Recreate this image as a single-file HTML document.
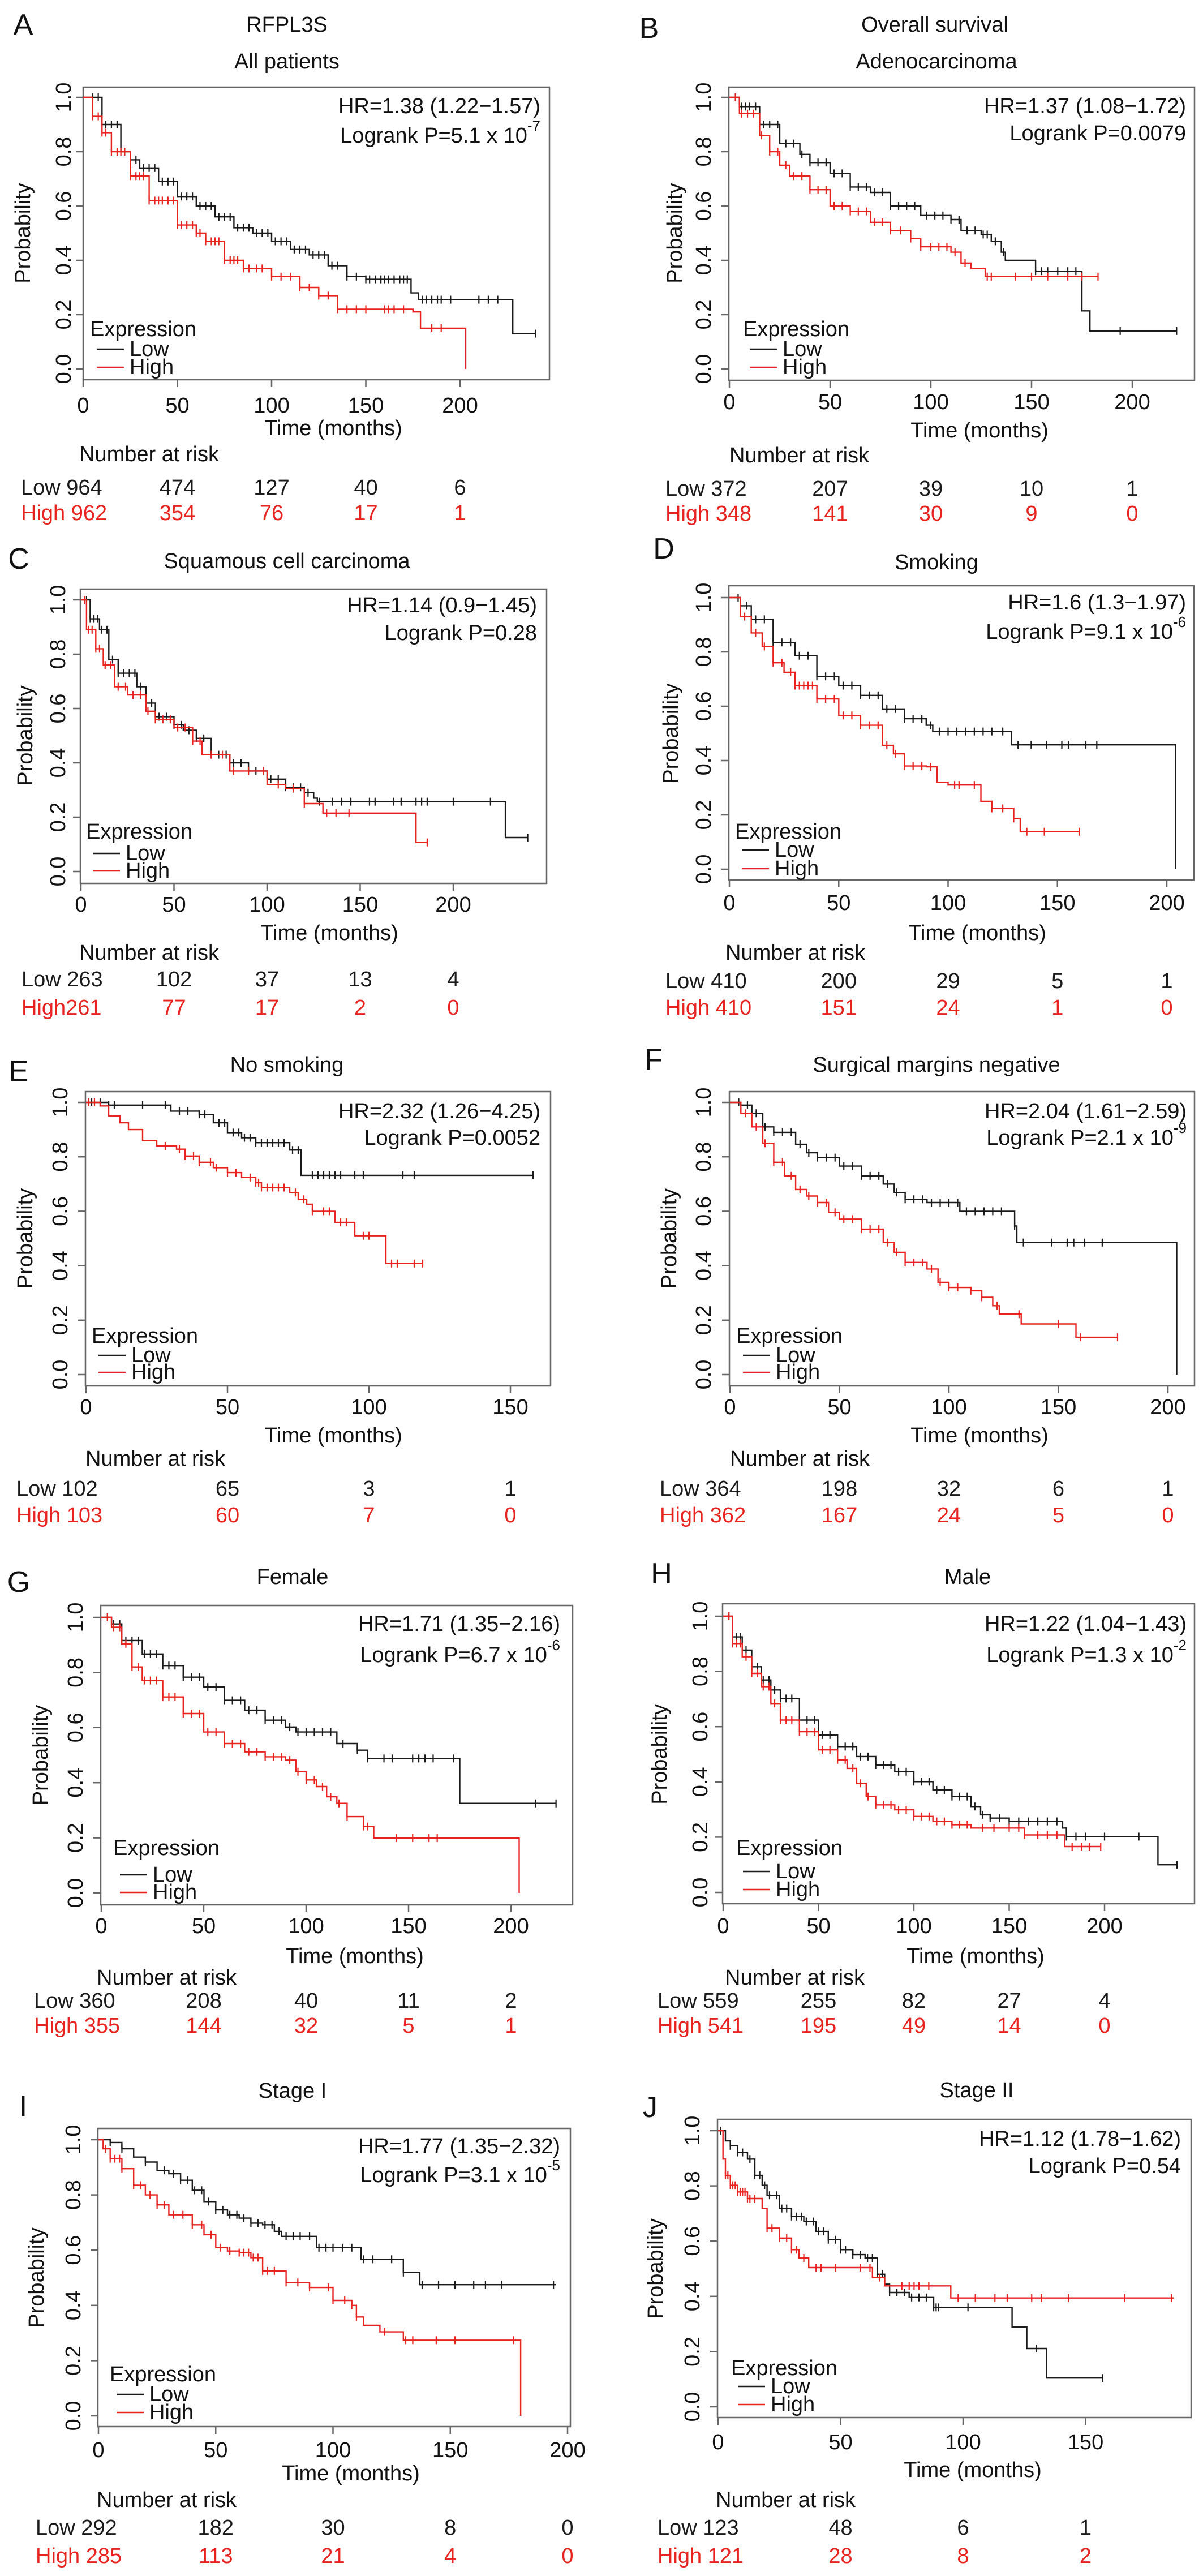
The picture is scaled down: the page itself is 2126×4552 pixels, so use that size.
<!DOCTYPE html>
<html><head><meta charset="utf-8"><title>RFPL3S survival curves</title>
<style>
html,body{margin:0;padding:0;background:#fff;}
svg{display:block;}
text{font-family:"Liberation Sans",Arial,sans-serif;}
</style></head>
<body>
<svg id="fig" xmlns="http://www.w3.org/2000/svg" width="2126" height="4552" viewBox="0 0 2126 4552">
<rect x="0" y="0" width="2126" height="4552" fill="#fff"/>
</svg>
<script>
// ---------- DATA ----------
const A_lowT=[0,10,20,25,30,40,50,60,70,80,90,100,110,120,130,140,150,174,178,228,240];
const A_lowS=[1,0.9,0.8,0.77,0.74,0.69,0.635,0.6,0.56,0.52,0.5,0.47,0.44,0.42,0.38,0.34,0.33,0.28,0.255,0.13,0.13];
const A_highT=[0,5,10,15,25,35,50,60,65,75,85,100,115,125,135,175,179,203];
const A_highS=[1,0.93,0.87,0.8,0.71,0.62,0.53,0.5,0.47,0.4,0.37,0.34,0.3,0.27,0.22,0.21,0.15,0];
const A_lowC=[5,8,12,15,18,22,25,28,32,35,38,42,45,48,52,55,58,62,65,68,72,75,78,82,85,88,92,95,98,102,105,108,112,115,118,122,125,128,132,135,140,145,150,152,155,158,160,162,165,168,170,172,180,182,185,188,190,195,210,215,220,240];
const A_highC=[5,8,10,12,15,18,20,22,25,28,30,32,35,38,40,42,45,48,50,52,55,58,60,62,65,68,70,72,75,78,80,82,85,88,92,95,100,105,110,115,120,125,130,135,140,145,150,160,162,165,170,185,190];
const A_riskLow=[964,474,127,40,6];
const A_riskHigh=[962,354,76,17,1];

const B_lowT=[0,5,15,25,35,40,50,60,70,80,95,110,115,125,130,135,137,152,175,179,222];
const B_lowS=[1,0.966,0.9,0.83,0.79,0.76,0.72,0.67,0.65,0.6,0.565,0.55,0.51,0.495,0.47,0.43,0.4,0.36,0.214,0.14,0.14];
const B_highT=[0,5,15,20,25,30,40,50,60,70,80,90,95,110,115,120,127,183];
const B_highS=[1,0.94,0.86,0.8,0.75,0.71,0.66,0.6,0.58,0.54,0.51,0.48,0.45,0.43,0.39,0.37,0.34,0.34];
const B_lowC=[3,6,8,10,13,17,20,24,28,32,36,40,44,48,52,56,60,64,68,72,76,80,84,88,92,98,102,106,110,114,118,122,126,128,132,136,152,155,158,163,168,172,194,222];
const B_highC=[3,6,9,12,16,20,24,28,32,36,40,44,48,52,56,60,64,68,72,76,80,85,90,95,100,104,108,112,117,128,130,142,150,158,168,175,183];
const B_riskLow=[372,207,39,10,1];
const B_riskHigh=[348,141,30,9,0];

const C_lowT=[0,5,10,15,20,30,35,40,50,55,62,70,80,90,100,110,120,125,127,228,240];
const C_lowS=[1,0.93,0.89,0.78,0.73,0.68,0.62,0.57,0.54,0.52,0.49,0.43,0.4,0.37,0.34,0.31,0.29,0.27,0.257,0.125,0.125];
const C_highT=[0,3,8,12,18,25,35,40,50,60,65,80,100,110,120,130,180,186];
const C_highS=[1,0.89,0.82,0.76,0.68,0.65,0.59,0.56,0.53,0.48,0.43,0.37,0.32,0.305,0.25,0.215,0.107,0.107];
const C_lowC=[3,5,7,9,11,14,17,20,23,26,29,32,35,38,42,46,50,54,58,62,66,70,74,78,82,86,90,94,98,102,106,110,114,118,122,128,135,140,145,155,158,168,172,180,183,186,200,220,240];
const C_highC=[2,4,6,8,10,13,16,20,24,28,32,36,40,44,48,52,56,60,64,70,76,82,90,98,106,114,120,132,137,144,186];
const C_riskLow=[263,102,37,13,4];
const C_riskHigh=[261,77,17,2,0];

const D_lowT=[0,5,10,20,30,40,50,60,70,80,90,93,129,204];
const D_lowS=[1,0.97,0.92,0.835,0.786,0.71,0.676,0.64,0.59,0.554,0.53,0.507,0.458,0];
const D_highT=[0,5,10,15,20,25,30,40,50,60,70,75,80,90,95,100,115,120,130,133,160];
const D_highS=[1,0.93,0.87,0.82,0.76,0.725,0.676,0.627,0.566,0.53,0.456,0.425,0.38,0.377,0.32,0.31,0.25,0.224,0.187,0.138,0.138];
const D_lowC=[4,8,12,16,20,24,28,32,36,40,44,48,52,56,60,64,68,72,76,80,84,88,92,96,100,104,108,112,116,120,125,132,138,145,152,155,163,168];
const D_highC=[7,12,16,20,24,28,30,32,34,36,38,40,44,48,52,56,60,64,68,72,76,80,84,88,92,103,105,112,120,125,130,136,144,160];
const D_riskLow=[410,200,29,5,1];
const D_riskHigh=[410,151,24,1,0];

const E_lowT=[0,8,30,40,45,50,55,60,72,76,158];
const E_lowS=[1,0.99,0.968,0.956,0.925,0.889,0.87,0.852,0.825,0.732,0.732];
const E_highT=[0,5,8,12,15,20,25,32,35,40,45,50,55,60,62,72,75,78,80,88,95,106,119];
const E_highS=[1,0.987,0.95,0.925,0.9,0.86,0.84,0.828,0.803,0.78,0.76,0.742,0.724,0.705,0.687,0.669,0.644,0.626,0.6,0.559,0.51,0.408,0.408];
const E_lowC=[2,5,8,10,20,28,33,36,40,42,47,49,52,54,56,58,60,62,64,66,68,70,73,75,80,82,84,86,88,90,95,98,112,116,158];
const E_highC=[1,3,28,33,35,38,40,44,46,50,53,58,60,61,62,64,66,68,70,74,77,80,84,86,90,92,98,100,108,110,116,119];
const E_riskLow=[102,65,3,1];
const E_riskHigh=[103,60,7,0];

const F_lowT=[0,5,10,15,20,30,35,40,50,60,70,75,80,90,105,130,131,204];
const F_lowS=[1,0.99,0.96,0.91,0.89,0.846,0.815,0.797,0.766,0.73,0.7,0.669,0.644,0.632,0.6,0.546,0.485,0];
const F_highT=[0,5,10,15,20,25,30,35,40,45,50,60,70,75,80,90,95,100,110,115,120,123,133,158,177];
const F_highS=[1,0.96,0.91,0.85,0.78,0.73,0.68,0.656,0.632,0.596,0.571,0.534,0.485,0.449,0.412,0.388,0.339,0.32,0.308,0.284,0.253,0.222,0.186,0.137,0.137];
const F_lowC=[4,8,12,16,20,24,28,32,36,40,44,48,52,56,60,64,68,72,76,80,84,88,92,96,100,104,108,112,116,120,124,130,134,147,154,157,162,170];
const F_highC=[7,12,16,20,24,28,32,36,40,44,48,52,56,60,64,68,72,76,80,84,88,92,96,100,104,110,115,122,132,150,160,177];
const F_riskLow=[364,198,32,6,1];
const F_riskHigh=[362,167,24,5,0];

const G_lowT=[0,5,10,20,30,40,50,60,70,80,90,95,115,125,130,175,222];
const G_lowS=[1,0.976,0.916,0.867,0.825,0.783,0.747,0.699,0.663,0.627,0.602,0.584,0.542,0.518,0.488,0.325,0.325];
const G_highT=[0,5,10,15,20,30,40,50,60,70,80,90,95,100,105,110,115,120,128,133,204];
const G_highS=[1,0.964,0.904,0.82,0.771,0.711,0.651,0.584,0.542,0.512,0.494,0.482,0.44,0.41,0.386,0.349,0.325,0.277,0.241,0.199,0];
const G_lowC=[3,6,9,12,15,18,21,24,27,30,33,36,40,44,48,52,56,60,64,68,72,76,80,84,88,92,96,100,104,108,112,118,125,130,138,142,152,155,158,162,172,212,222];
const G_highC=[3,6,9,12,15,18,21,24,27,30,33,36,40,44,48,52,56,60,64,68,72,76,80,84,88,92,96,100,104,108,112,116,120,128,130,144,152,160,164];
const G_riskLow=[360,208,40,11,2];
const G_riskHigh=[355,144,32,5,1];

const H_lowT=[0,5,10,15,20,25,30,40,50,60,70,80,90,100,110,120,130,135,140,150,178,180,228,238];
const H_lowS=[1,0.925,0.877,0.817,0.769,0.733,0.702,0.624,0.57,0.528,0.492,0.461,0.437,0.401,0.371,0.347,0.311,0.281,0.269,0.257,0.233,0.202,0.1,0.1];
const H_highT=[0,5,10,15,20,25,30,40,50,60,65,70,75,80,90,100,110,120,130,158,179,198];
const H_highS=[1,0.901,0.853,0.793,0.745,0.684,0.624,0.582,0.516,0.48,0.449,0.395,0.347,0.317,0.299,0.275,0.257,0.245,0.233,0.208,0.166,0.166];
const H_lowC=[3,5,7,9,12,15,18,21,24,27,30,33,36,40,44,48,52,56,60,64,68,72,76,80,84,88,92,96,100,104,108,112,116,120,124,128,132,136,140,145,150,155,160,165,170,175,180,185,190,200,218,238];
const H_highC=[3,5,7,9,12,15,18,21,24,27,30,33,36,40,44,48,52,56,60,64,68,72,76,80,84,88,92,96,100,104,108,112,116,120,124,128,136,142,150,155,158,165,170,175,183,188,192,198];
const H_riskLow=[559,255,82,27,4];
const H_riskHigh=[541,195,49,14,0];

const I_lowT=[0,5,10,15,20,25,30,35,40,45,50,55,60,65,70,75,78,93,112,130,137,195];
const I_lowS=[1,0.99,0.967,0.937,0.919,0.889,0.877,0.853,0.817,0.776,0.746,0.728,0.716,0.698,0.692,0.668,0.65,0.609,0.567,0.519,0.475,0.475];
const I_highT=[0,2,5,10,15,20,25,30,40,45,50,55,60,65,70,80,90,100,108,110,113,120,130,180];
const I_highS=[1,0.967,0.931,0.895,0.835,0.8,0.764,0.728,0.692,0.656,0.609,0.597,0.591,0.573,0.525,0.483,0.465,0.418,0.4,0.358,0.328,0.304,0.274,0];
const I_lowC=[5,10,20,28,32,35,38,41,44,47,50,53,56,59,62,65,68,71,74,77,80,83,86,90,94,97,100,104,108,113,117,125,130,138,145,152,160,165,172,194];
const I_highC=[3,5,7,9,10,15,18,22,25,28,32,36,40,44,48,52,56,60,62,64,66,68,70,72,75,80,85,90,98,100,105,108,110,122,131,134,144,152,177];
const I_riskLow=[292,182,30,8,0];
const I_riskHigh=[285,113,21,4,0];

const J_lowT=[0,3,5,8,12,15,18,20,25,30,35,40,45,50,55,60,65,68,70,78,88,120,126,134,157];
const J_lowS=[1,0.963,0.945,0.921,0.897,0.838,0.802,0.766,0.718,0.689,0.671,0.635,0.605,0.569,0.551,0.539,0.48,0.444,0.414,0.396,0.36,0.289,0.211,0.104,0.104];
const J_highT=[0,2,3,5,8,12,18,20,25,30,33,37,63,68,95,186];
const J_highS=[1,0.897,0.838,0.802,0.778,0.754,0.718,0.647,0.611,0.569,0.539,0.504,0.468,0.438,0.394,0.394];
const J_lowC=[1,5,8,10,13,15,17,19,21,24,26,28,30,32,34,36,39,41,43,45,48,50,52,55,58,61,63,65,67,70,73,76,79,82,85,88,89,90,102,130,157];
const J_highC=[3,4,5,6,7,8,9,10,11,12,13,15,20,22,25,28,30,32,35,40,42,48,58,62,66,75,78,80,82,86,98,105,113,118,128,132,143,166,185];
const J_riskLow=[123,48,6,1];
const J_riskHigh=[121,28,8,2];

const yTicks=[0,0.2,0.4,0.6,0.8,1.0];
const yTickLabels=["0.0","0.2","0.4","0.6","0.8","1.0"];
const xTicks200=[0,50,100,150,200];
const xTicks150=[0,50,100,150];

// ---------- LAYOUT ----------
const panels=[
 {id:"a",letter:"A",lp:[41,44],titles:[["RFPL3S",507,44],["All patients",507,109]],box:[147,154,971,671],x0:147,xs:3.33,y1:172,y0:652,hr:"HR=1.38 (1.22\u22121.57)",p:"5.1 x 10",sup:"-7",hrX:955,hrY:188,lrY:240,yLabX:113,probX:41,leg:[159,582,617,649],tickY:717,timeX:589,timeY:757,narX:140,narY:803,lowY:862,highY:907,lowLabX:37,hiLabel:"High ",lT:A_lowT,lS:A_lowS,hT:A_highT,hS:A_highS,lC:A_lowC,hC:A_highC,rL:A_riskLow,rH:A_riskHigh,ticks:xTicks200},
 {id:"b",letter:"B",lp:[1147,50],titles:[["Overall survival",1652,44],["Adenocarcinoma",1655,109]],box:[1288,154,2111,672],x0:1289,xs:3.56,y1:172,y0:652,hr:"HR=1.37 (1.08\u22121.72)",p:"0.0079",sup:"",hrX:2096,hrY:188,lrY:236,yLabX:1244,probX:1193,leg:[1313,582,617,649],tickY:711,timeX:1731,timeY:761,narX:1289,narY:805,lowY:864,highY:908,lowLabX:1176,hiLabel:"High ",lT:B_lowT,lS:B_lowS,hT:B_highT,hS:B_highS,lC:B_lowC,hC:B_highC,rL:B_riskLow,rH:B_riskHigh,ticks:xTicks200},
 {id:"c",letter:"C",lp:[33,988],titles:[["Squamous cell carcinoma",507,992]],box:[142,1041,966,1561],x0:143,xs:3.29,y1:1060,y0:1540,hr:"HR=1.14 (0.9\u22121.45)",p:"0.28",sup:"",hrX:949,hrY:1070,lrY:1119,yLabX:103,probX:45,leg:[152,1470,1508,1539],tickY:1599,timeX:582,timeY:1649,narX:140,narY:1684,lowY:1731,highY:1781,lowLabX:38,hiLabel:"High",lT:C_lowT,lS:C_lowS,hT:C_highT,hS:C_highS,lC:C_lowC,hC:C_highC,rL:C_riskLow,rH:C_riskHigh,ticks:xTicks200},
 {id:"d",letter:"D",lp:[1173,970],titles:[["Smoking",1655,994]],box:[1288,1035,2110,1555],x0:1289,xs:3.865,y1:1056,y0:1536,hr:"HR=1.6 (1.3\u22121.97)",p:"9.1 x 10",sup:"-6",hrX:2096,hrY:1065,lrY:1117,yLabX:1244,probX:1186,leg:[1299,1470,1502,1535],tickY:1596,timeX:1727,timeY:1649,narX:1282,narY:1684,lowY:1734,highY:1781,lowLabX:1176,hiLabel:"High ",lT:D_lowT,lS:D_lowS,hT:D_highT,hS:D_highS,lC:D_lowC,hC:D_highC,rL:D_riskLow,rH:D_riskHigh,ticks:xTicks200},
 {id:"e",letter:"E",lp:[33,1893],titles:[["No smoking",507,1882]],box:[151,1929,973,2449],x0:152,xs:5.0,y1:1948,y0:2429,hr:"HR=2.32 (1.26\u22124.25)",p:"0.0052",sup:"",hrX:955,hrY:1964,lrY:2011,yLabX:107,probX:45,leg:[162,2361,2395,2425],tickY:2487,timeX:589,timeY:2537,narX:151,narY:2578,lowY:2631,highY:2678,lowLabX:29,hiLabel:"High ",lT:E_lowT,lS:E_lowS,hT:E_highT,hS:E_highS,lC:E_lowC,hC:E_highC,rL:E_riskLow,rH:E_riskHigh,ticks:xTicks150},
 {id:"f",letter:"F",lp:[1155,1873],titles:[["Surgical margins negative",1655,1882]],box:[1289,1929,2111,2449],x0:1290,xs:3.87,y1:1948,y0:2429,hr:"HR=2.04 (1.61\u22122.59)",p:"2.1 x 10",sup:"-9",hrX:2097,hrY:1964,lrY:2011,yLabX:1244,probX:1183,leg:[1301,2361,2395,2425],tickY:2487,timeX:1731,timeY:2537,narX:1290,narY:2578,lowY:2631,highY:2678,lowLabX:1166,hiLabel:"High ",lT:F_lowT,lS:F_lowS,hT:F_highT,hS:F_highS,lC:F_lowC,hC:F_highC,rL:F_riskLow,rH:F_riskHigh,ticks:xTicks200},
 {id:"g",letter:"G",lp:[33,2796],titles:[["Female",517,2787]],box:[178,2837,1012,3366],x0:179,xs:3.62,y1:2858,y0:3345,hr:"HR=1.71 (1.35\u22122.16)",p:"6.7 x 10",sup:"-6",hrX:990,hrY:2870,lrY:2925,yLabX:134,probX:72,leg:[200,3266,3313,3344],tickY:3404,timeX:627,timeY:3457,narX:171,narY:3495,lowY:3536,highY:3580,lowLabX:60,hiLabel:"High ",lT:G_lowT,lS:G_lowS,hT:G_highT,hS:G_highS,lC:G_lowC,hC:G_highC,rL:G_riskLow,rH:G_riskHigh,ticks:xTicks200},
 {id:"h",letter:"H",lp:[1169,2781],titles:[["Male",1710,2787]],box:[1277,2834,2111,3364],x0:1278,xs:3.37,y1:2856,y0:3344,hr:"HR=1.22 (1.04\u22121.43)",p:"1.3 x 10",sup:"-2",hrX:2097,hrY:2870,lrY:2925,yLabX:1238,probX:1166,leg:[1301,3266,3307,3339],tickY:3404,timeX:1724,timeY:3457,narX:1281,narY:3495,lowY:3536,highY:3580,lowLabX:1162,hiLabel:"High ",lT:H_lowT,lS:H_lowS,hT:H_highT,hS:H_highS,lC:H_lowC,hC:H_highC,rL:H_riskLow,rH:H_riskHigh,ticks:xTicks200},
 {id:"i",letter:"I",lp:[41,3722],titles:[["Stage I",517,3695]],box:[173,3761,1008,4288],x0:174,xs:4.145,y1:3781,y0:4269,hr:"HR=1.77 (1.35\u22122.32)",p:"3.1 x 10",sup:"-5",hrX:990,hrY:3793,lrY:3844,yLabX:130,probX:65,leg:[194,4196,4231,4263],tickY:4330,timeX:620,timeY:4371,narX:171,narY:4418,lowY:4467,highY:4517,lowLabX:63,hiLabel:"High ",lT:I_lowT,lS:I_lowS,hT:I_highT,hS:I_highS,lC:I_lowC,hC:I_highC,rL:I_riskLow,rH:I_riskHigh,ticks:xTicks200},
 {id:"j",letter:"J",lp:[1149,3724],titles:[["Stage II",1726,3694]],box:[1268,3745,2105,4272],x0:1269,xs:4.33,y1:3765,y0:4253,hr:"HR=1.12 (1.78\u22121.62)",p:"0.54",sup:"",hrX:2087,hrY:3780,lrY:3828,yLabX:1224,probX:1159,leg:[1292,4185,4217,4249],tickY:4316,timeX:1719,timeY:4365,narX:1265,narY:4418,lowY:4467,highY:4517,lowLabX:1162,hiLabel:"High ",lT:J_lowT,lS:J_lowS,hT:J_highT,hS:J_highS,lC:J_lowC,hC:J_highC,rL:J_riskLow,rH:J_riskHigh,ticks:xTicks150}
];

const NS="http://www.w3.org/2000/svg";
const svg=document.getElementById('fig');
const RED="#e8231f", BLK="#1a1a1a";
function mk(tag,attrs,parent){const e=document.createElementNS(NS,tag);for(const k in attrs)e.setAttribute(k,attrs[k]);parent.appendChild(e);return e;}
function txt(parent,s,x,y,opts){const e=mk('text',Object.assign({x:x,y:y,'font-size':38,'dominant-baseline':'central',fill:'#111'},opts||{}),parent);e.textContent=s;return e;}
function stepAt(T,S,t){let v=S[0];for(let i=0;i<T.length;i++){if(T[i]<=t)v=S[i];else break;}return v;}

panels.forEach(P=>{
  const X=t=>P.x0+t*P.xs;
  const Y=s=>P.y0-(P.y0-P.y1)*s;
  const g=mk('g',{},svg);
  
  
  const L=txt(g,P.letter,P.lp[0],P.lp[1],{'font-size':52,'text-anchor':'middle'});
  
  
  P.titles.forEach((tt,i)=>{
    const e=txt(g,tt[0],tt[1],tt[2],{'text-anchor':'middle'});
    
    
  });
  const b=P.box;
  const box=mk('rect',{x:b[0],y:b[1],width:b[2]-b[0],height:b[3]-b[1],fill:'none',stroke:'#666','stroke-width':2.5},g);
  
  
  yTicks.forEach((v,i)=>{
    const yt=mk('line',{x1:b[0]-13,x2:b[0],y1:Y(v),y2:Y(v),stroke:'#666','stroke-width':2.5},g);
    
    
    const e=txt(g,yTickLabels[i],P.yLabX,Y(v),{'text-anchor':'middle',transform:'rotate(-90 '+P.yLabX+' '+Y(v)+')'});
    
    
  });
  const ym=(P.y0+P.y1)/2;
  const pl=txt(g,'Probability',P.probX,ym,{'text-anchor':'middle',transform:'rotate(-90 '+P.probX+' '+ym+')'});
  
  
  P.ticks.forEach(t=>{
    const xt=mk('line',{x1:X(t),x2:X(t),y1:b[3],y2:b[3]+13,stroke:'#666','stroke-width':2.5},g);
    
    
    const e=txt(g,String(t),X(t),P.tickY,{'text-anchor':'middle'});
    
    
  });
  const tl=txt(g,'Time (months)',P.timeX,P.timeY,{'text-anchor':'middle'});
  
  
  [[P.lT,P.lS,P.lC,BLK,'low'],[P.hT,P.hS,P.hC,RED,'high']].forEach(([T,S,C,col,nm])=>{
    let d='M'+X(T[0])+' '+Y(S[0]);
    for(let i=1;i<T.length;i++){d+=' H'+X(T[i]).toFixed(1)+' V'+Y(S[i]).toFixed(1);}
    const p=mk('path',{d:d,fill:'none',stroke:col,'stroke-width':2.4},g);
    
    
    C.forEach(t=>{
      const s=stepAt(T,S,t);
      const c=mk('line',{x1:X(t),x2:X(t),y1:Y(s)-7,y2:Y(s)+7,stroke:col,'stroke-width':2.2},g);
      
      
    });
  });
  const hr=txt(g,P.hr,P.hrX,P.hrY,{'text-anchor':'end'});
  
  
  const lr=mk('text',{x:P.hrX,y:P.lrY,'font-size':38,'dominant-baseline':'central','text-anchor':'end',fill:'#111'},g);
  
  
  const t1=mk('tspan',{},lr);t1.textContent='Logrank P='+P.p;
  if(P.sup){const t2=mk('tspan',{'font-size':26,dy:-18},lr);t2.textContent=P.sup;}
  const lg=P.leg;
  const le=txt(g,'Expression',lg[0],lg[1]);
  
  
  [[lg[2],'Low',BLK],[lg[3],'High',RED]].forEach(([yy,s,col])=>{
    const ln=mk('line',{x1:lg[0]+12,x2:lg[0]+60,y1:yy,y2:yy,stroke:col,'stroke-width':2.4},g);
    
    
    const e=txt(g,s,lg[0]+70,yy);
    
    
  });
  const nr=txt(g,'Number at risk',P.narX,P.narY);
  
  
  [[P.rL,P.lowY,'Low ',BLK,'low'],[P.rH,P.highY,P.hiLabel,RED,'high']].forEach(([R,yy,lab,col,nm])=>{
    R.forEach((v,i)=>{
      let e;
      if(i===0){e=txt(g,lab+v,P.lowLabX,yy,{fill:col});}
      else{e=txt(g,String(v),X(P.ticks[i]),yy,{'text-anchor':'middle',fill:col});}
      
      
    });
  });
});
</script>
</body></html>
